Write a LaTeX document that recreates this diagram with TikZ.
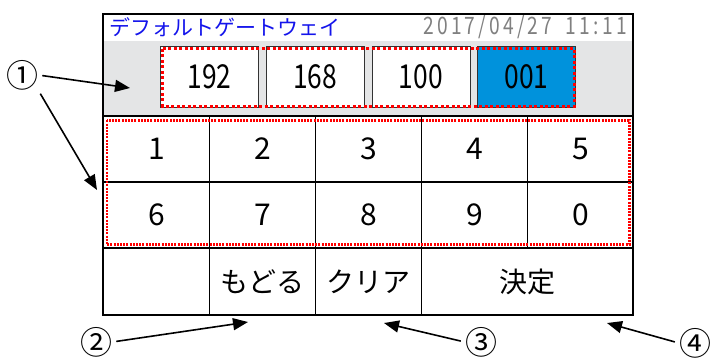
\documentclass[tikz,border=0pt]{standalone}
\usepackage{fontspec}
\setmainfont{Noto Sans CJK JP}
\usepackage{graphicx}
\usetikzlibrary{arrows.meta,positioning}
\definecolor{titleblue}{RGB}{20,20,235}
\definecolor{dategray}{RGB}{128,128,128}
\definecolor{bandgray}{RGB}{228,229,230}
\definecolor{selblue}{RGB}{0,146,220}
\definecolor{dotred}{RGB}{255,0,0}
\newcommand{\narrow}[1]{\scalebox{0.8}[1]{#1}}

\begin{document}
\begin{tikzpicture}[x=1pt, y=-1pt, on grid, semithick]
	\tikzstyle{key} = [draw, line width=1.4pt, minimum width=106pt, minimum height=66pt, inner sep=0pt, node distance=106pt, font={\fontsize{30}{30}\selectfont}]
	\tikzstyle{fnkey} = [key, minimum height=67pt, font={\fontsize{28}{28}\selectfont}]
	\tikzstyle{ipbox} = [draw=black!80, thin, fill=white, minimum width=98pt, minimum height=61pt, inner sep=0pt, node distance=105.7pt, font={\fontsize{33}{33}\selectfont}]
	\tikzstyle{reddots} = [dotred, line width=3pt, dash pattern=on 3pt off 2.5pt]
	\tikzstyle{callout} = [inner sep=0pt, font={\fontsize{32}{32}\selectfont}]
	\tikzstyle{pointer} = [black, line width=1.6pt, -{Triangle[length=15pt, width=12pt]}, shorten <=4pt]

	\useasboundingbox (0,0) rectangle (713,360);

	% screen: title bar and address band
	\fill[bandgray] (103,41) rectangle (633,116);
	\node[anchor=west, text=titleblue, inner sep=0pt, font={\fontsize{21}{21}\selectfont}] (title) at (109,27) {デフォルトゲートウェイ};
	\node[anchor=east, text=dategray, inner sep=0pt, font={\fontsize{24}{24}\selectfont}] (date) at (627,27) {\narrow{2\,0\,1\,7\,/\,0\,4\,/\,2\,7\hspace{0.7em}1\,1\,:\,1\,1}};

	\node[ipbox](ip1) at (209.5,77) {\narrow{192}};
	\node[ipbox](ip2) [right=of ip1] {\narrow{168}};
	\node[ipbox](ip3) [right=of ip2] {\narrow{100}};
	\node[ipbox, fill=selblue](ip4) [right=of ip3] {\narrow{001}};
	\draw[reddots] ([shift={(2.5,2.5)}]ip1.north west) rectangle ([shift={(-1.5,-1.5)}]ip4.south east);

	% keypad
	\node[key](key1) at (156.5,149) {1};
	\node[key](key2) [right=of key1] {2};
	\node[key](key3) [right=of key2] {3};
	\node[key](key4) [right=of key3] {4};
	\node[key](key5) [right=of key4] {5};
	\node[key](key6) [below=66pt of key1] {6};
	\node[key](key7) [right=of key6] {7};
	\node[key](key8) [right=of key7] {8};
	\node[key](key9) [right=of key8] {9};
	\node[key](key10) [right=of key9] {0};
	\draw[dotred, line width=2.6pt, dash pattern=on 2pt off 1.2pt] ([shift={(4,5)}]key1.north west) rectangle ([shift={(-5,-4)}]key10.south east);

	\node[fnkey](blank) [below=66.5pt of key6] {};
	\node[fnkey](back) [right=of blank] {もどる};
	\node[fnkey](clear) [right=of back] {クリア};
	\node[fnkey, minimum width=212pt](ok) [right=159pt of clear] {決定};

	\draw[line width=2pt] (103,14) rectangle (633,315);

	% callouts
	\node[callout](c1) at (22,75) {①};
	\node[callout](c2) at (96,342) {②};
	\node[callout](c3) at (481,342) {③};
	\node[callout](c4) at (695,343) {④};
	\coordinate (t1a) at (130,88);
	\coordinate (t1b) at (97,190);
	\coordinate (t2) at (248,322);
	\coordinate (t3) at (384,323);
	\coordinate (t4) at (607,323);

	\draw[pointer] (c1.east) -- (t1a);
	\draw[pointer] (c1.south east) -- (t1b);
	\draw[pointer] (c2.east) -- (t2);
	\draw[pointer] (c3.west) -- (t3);
	\draw[pointer] (c4.west) -- (t4);
\end{tikzpicture}
\end{document}
